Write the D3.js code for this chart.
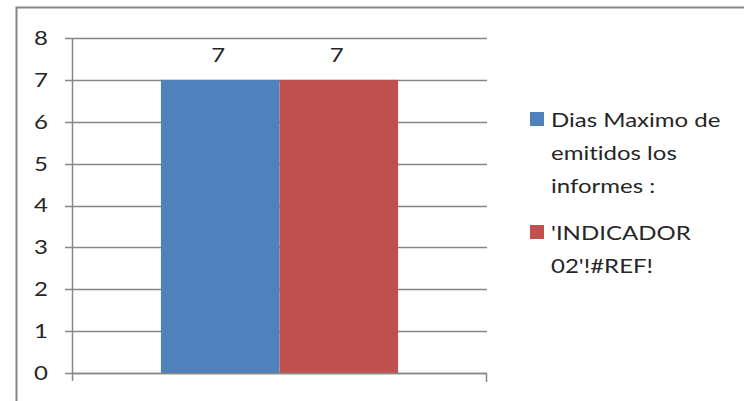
<!DOCTYPE html>
<html>
<head>
<meta charset="utf-8">
<script src="https://cdn.jsdelivr.net/npm/d3@7"></script>
<style>
  body { margin: 0; background: #fff; }
  svg { font-family: Lato, "Open Sans", sans-serif; font-variant-ligatures: none; }
</style>
</head>
<body>
<svg class="chart"></svg>
<script>
// values
var categories = ["Dias Maximo de emitidos los informes :", "'INDICADOR 02'!#REF!"];
var values = [7, 7];
var colors = ["#4f81bd", "#c0504d"];
var yTicks = [0, 1, 2, 3, 4, 5, 6, 7, 8];
var legendLines = [["Dias Maximo de", "emitidos los", "informes :"], ["'INDICADOR", "02'!#REF!"]];

var W = 744, H = 401;
var margin = {top: 38, left: 72},
    width = 487 - 72,
    height = 373 - 38;
var fontSize = 20, stretch = 1.2;

// the source picture's text is a bit wider than Lato, so widen each text
function widen(sel) {
  sel.each(function() {
    var len = this.getComputedTextLength();
    d3.select(this)
      .attr("textLength", len * stretch)
      .attr("lengthAdjust", "spacingAndGlyphs");
  });
}

var svg = d3.select(".chart")
    .attr("width", W)
    .attr("height", H);

// outer chart border (only top and left visible)
svg.append("path")
    .attr("d", "M16.5," + H + "V7.5H" + W)
    .attr("fill", "none")
    .attr("stroke", "#868686")
    .attr("stroke-width", 2);

var main = svg.append("g")
    .attr("transform", "translate(" + margin.left + "," + margin.top + ")");

var y = d3.scaleLinear().domain([0, 8]).range([height, 0]);

var x = d3.scaleBand()
    .domain(["g"])
    .range([0, width])
    .paddingInner(0)
    .paddingOuter(0.375);

var xs = d3.scaleBand()
    .domain(categories)
    .range([x("g"), x("g") + x.bandwidth()]);

// gridlines
main.selectAll(".grid")
    .data(yTicks)
  .enter().append("line")
    .attr("x1", -7)
    .attr("x2", width)
    .attr("y1", function(d) { return Math.round(y(d)) + 0.5; })
    .attr("y2", function(d) { return Math.round(y(d)) + 0.5; })
    .attr("stroke", "#868686")
    .attr("stroke-width", 1.5);

// bars
main.selectAll(".bar")
    .data(values)
  .enter().append("rect")
    .attr("x", function(d, i) { return xs(categories[i]); })
    .attr("width", xs.bandwidth())
    .attr("y", function(d) { return y(d); })
    .attr("height", function(d) { return height - y(d); })
    .attr("fill", function(d, i) { return colors[i]; });

// data labels
main.selectAll(".lbl")
    .data(values)
  .enter().append("text")
    .attr("x", function(d, i) { return xs(categories[i]) + xs.bandwidth() / 2 - 2; })
    .attr("y", function(d) { return y(d) - 18; })
    .attr("text-anchor", "middle")
    .attr("font-size", fontSize)
    .attr("fill", "#262626")
    .text(function(d) { return d; })
    .call(widen);

// y axis
var yAxis = d3.axisLeft(y).tickValues(yTicks).tickSize(0).tickPadding(24).tickFormat(d3.format("d"));
var ya = main.append("g").call(yAxis);
ya.select(".domain").remove();
ya.selectAll("text")
    .attr("font-size", fontSize)
    .attr("fill", "#262626")
    .attr("font-family", "Lato, sans-serif")
    .call(widen);

main.append("line")
    .attr("x1", 0.5).attr("x2", 0.5)
    .attr("y1", 0).attr("y2", height + 8)
    .attr("stroke", "#868686").attr("stroke-width", 1.5);

// x axis baseline with end tick
main.append("line")
    .attr("x1", 0).attr("x2", width)
    .attr("y1", height + 0.5).attr("y2", height + 0.5)
    .attr("stroke", "#868686").attr("stroke-width", 1.5);
main.append("line")
    .attr("x1", width - 0.5).attr("x2", width - 0.5)
    .attr("y1", height).attr("y2", height + 9)
    .attr("stroke", "#868686").attr("stroke-width", 1.5);

// legend
var legend = svg.append("g").attr("transform", "translate(530,112)");
var offsets = [0, 113];
legendLines.forEach(function(lines, i) {
  var g = legend.append("g").attr("transform", "translate(0," + offsets[i] + ")");
  g.append("rect")
      .attr("width", 14).attr("height", 14)
      .attr("fill", colors[i]);
  g.selectAll("text")
      .data(lines)
    .enter().append("text")
      .attr("x", 21)
      .attr("y", function(d, j) { return 15 + j * 33; })
      .attr("font-size", fontSize)
      .attr("fill", "#262626")
      .text(function(d) { return d; })
      .call(widen);
});
</script>
</body>
</html>
